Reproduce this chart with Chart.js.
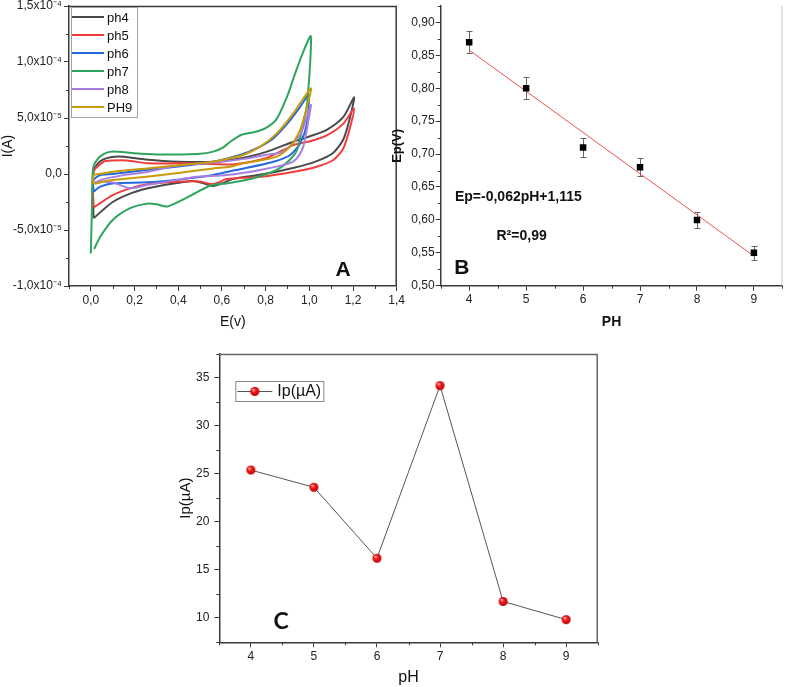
<!DOCTYPE html>
<html>
<head>
<meta charset="utf-8">
<script src="https://cdn.jsdelivr.net/npm/chart.js@4.4.0/dist/chart.umd.min.js"></script>
<style>
body { margin: 0; background: #fff; }
#wrap { position: relative; width: 787px; height: 687px; }
canvas { position: absolute; left: 0; top: 0; }
</style>
</head>
<body>
<div id="wrap">
<canvas id="chartA" width="787" height="687"></canvas>
<canvas id="chartB" width="787" height="687"></canvas>
<canvas id="chartC" width="787" height="687"></canvas>
</div>
<script>
// ---- panel A : voltammograms, current in units of 1e-5 A ----
var cvLabels = ["ph4", "ph5", "ph6", "ph7", "ph8", "PH9"];
var cvColors = ["#4a4a4a", "#f23c3c", "#2468dc", "#2ea55f", "#a67ee2", "#c89c08"];

var ph4E = [0.012,0.012,0.04,0.09,0.15,0.25,0.4,0.56,0.7,0.8,0.93,1.0,1.08,1.156,1.205,1.187,1.156,1.11,1.034,0.93,0.78,0.65,0.6,0.56,0.515,0.47,0.41,0.33,0.256,0.18,0.1,0.012];
var ph4I = [-3.96,0.2,1.1,1.5,1.55,1.3,1.1,1.1,1.45,1.95,2.9,3.35,3.95,5.1,6.85,5.1,3.1,1.9,1.15,0.55,-0.05,-0.45,-0.85,-1.07,-0.83,-0.62,-0.77,-1.0,-1.3,-1.75,-2.5,-3.96];

var ph5E = [0.012,0.012,0.06,0.1,0.165,0.26,0.41,0.56,0.65,0.8,0.93,1.0,1.08,1.156,1.205,1.187,1.156,1.11,1.034,0.93,0.78,0.62,0.58,0.55,0.5,0.41,0.26,0.18,0.1,0.012];
var ph5I = [-3.0,0.2,1.1,1.2,1.2,0.95,0.95,0.9,0.85,1.4,2.6,2.9,3.45,4.5,5.86,4.2,2.3,1.25,0.65,0.2,-0.25,-0.45,-0.8,-0.9,-0.68,-0.68,-0.92,-1.28,-1.88,-3.0];

var ph6E = [0.012,0.012,0.043,0.1,0.25,0.41,0.56,0.683,0.76,0.836,0.912,0.958,0.996,0.989,0.958,0.912,0.836,0.683,0.638,0.56,0.41,0.256,0.103,0.043,0.012];
var ph6I = [-1.58,-0.55,-0.1,0.0,0.35,0.7,1.1,1.7,2.3,3.2,4.8,6.0,7.0,4.5,2.75,1.7,1.1,0.42,0.25,-0.09,-0.48,-0.74,-0.83,-1.13,-1.58];

var ph7E = [0.0,0.005,0.01,0.03,0.06,0.1,0.2,0.3,0.41,0.5,0.56,0.6,0.64,0.69,0.75,0.8,0.85,0.9,0.93,0.97,1.007,0.99,0.966,0.943,0.91,0.85,0.74,0.62,0.55,0.45,0.35,0.3,0.256,0.18,0.1,0.043,0.015];
var ph7I = [-7.1,-3.0,0.5,1.3,1.8,2.0,1.85,1.75,1.75,1.8,2.0,2.3,2.9,3.5,3.75,4.1,4.9,7.0,8.7,10.8,12.3,6.3,3.9,2.1,1.25,0.36,-0.4,-0.85,-1.0,-2.0,-2.9,-2.7,-2.65,-3.05,-4.1,-5.6,-6.7];

var ph8E = [0.012,0.05,0.15,0.25,0.33,0.4,0.5,0.6,0.7,0.8,0.88,0.958,1.007,0.996,0.973,0.943,0.9,0.775,0.622,0.485,0.41,0.256,0.18,0.103,0.05,0.012];
var ph8I = [-0.83,-0.5,-0.1,0.15,0.5,0.75,0.95,1.1,1.35,1.7,2.0,3.5,6.16,4.8,2.5,1.4,0.9,0.36,-0.09,-0.24,-0.48,-0.98,-1.28,-0.77,-0.7,-0.83];

var ph9E = [0.012,0.103,0.256,0.41,0.56,0.638,0.698,0.775,0.851,0.927,1.007,0.989,0.958,0.912,0.851,0.698,0.638,0.56,0.41,0.256,0.18,0.073,0.012,0.012];
var ph9I = [-0.09,0.2,0.5,0.8,1.1,1.4,1.7,2.44,3.63,5.42,7.65,6.0,3.93,2.44,1.55,0.95,0.65,0.5,0.12,-0.24,-0.39,-0.6,-0.83,-0.09];

var cvE = [ph4E, ph5E, ph6E, ph7E, ph8E, ph9E];
var cvI = [ph4I, ph5I, ph6I, ph7I, ph8I, ph9I];

var aXTicks = [0, 0.2, 0.4, 0.6, 0.8, 1.0, 1.2, 1.4];
var aXLabels = ["0,0", "0,2", "0,4", "0,6", "0,8", "1,0", "1,2", "1,4"];
var aXMinor = [-0.1, 0.1, 0.3, 0.5, 0.7, 0.9, 1.1, 1.3];
var aYTicks = [-10, -5, 0, 5, 10, 15];
var aYLabels = ["-1,0x10\u207B\u2074", "-5,0x10\u207B\u2075", "0,0", "5,0x10\u207B\u2075", "1,0x10\u207B\u2074", "1,5x10\u207B\u2074"];
var aYMinor = [-7.5, -2.5, 2.5, 7.5, 12.5];

// ---- panel B : peak potential vs pH ----
var phValues = [4, 5, 6, 7, 8, 9];
var epValues = [0.87, 0.80, 0.71, 0.68, 0.60, 0.55];
var epErr = [0.017, 0.0165, 0.0145, 0.0135, 0.012, 0.011];
var fitPH = [4, 9];
var fitEp = [0.858, 0.545];
var bXLabels = ["4", "5", "6", "7", "8", "9"];
var bXMinor = [3.5, 4.5, 5.5, 6.5, 7.5, 8.5, 9.5];
var bYTicks = [0.50, 0.55, 0.60, 0.65, 0.70, 0.75, 0.80, 0.85, 0.90];
var bYLabels = ["0,50", "0,55", "0,60", "0,65", "0,70", "0,75", "0,80", "0,85", "0,90"];
var bYMinor = [0.525, 0.575, 0.625, 0.675, 0.725, 0.775, 0.825, 0.875, 0.925];

// ---- panel C : peak current vs pH ----
var ipValues = [25.4, 23.6, 16.2, 34.2, 11.7, 9.8];
var cYTicks = [10, 15, 20, 25, 30, 35];
var cYMinor = [7.5, 12.5, 17.5, 22.5, 27.5, 32.5, 37.5];

Chart.defaults.font.family = "'Liberation Sans', Arial, sans-serif";
Chart.defaults.color = "#222";

var AX = "#3a3a3a";

function toPoints(xs, ys) {
    return xs.map(function(x, i){ return {x: x, y: ys[i]}; });
}

function fixTicks(values) {
    return function(scale){ scale.ticks = values.map(function(v){ return {value: v}; }); };
}

function xFit(h) {
    return function(s){ s.height = h; s.paddingLeft = 0; s.paddingRight = 0; };
}
function yFit(w) {
    return function(s){ s.width = w; s.paddingTop = 0; s.paddingBottom = 0; };
}

function axisGrid() {
    return { drawOnChartArea: false, drawTicks: true, tickLength: 5, color: AX, lineWidth: 1 };
}

// minor ticks + optional frame, drawn through the scales
function extras(xMinor, yMinor, frame) {
    return {
        id: "extras",
        afterDraw: function(chart){
            var ctx = chart.ctx, a = chart.chartArea;
            var xs = chart.scales.x, ys = chart.scales.y;
            ctx.save();
            ctx.strokeStyle = AX;
            ctx.lineWidth = 1;
            ctx.beginPath();
            xMinor.forEach(function(v){
                var px = Math.round(xs.getPixelForValue(v)) + 0.5;
                ctx.moveTo(px, a.bottom); ctx.lineTo(px, a.bottom + 3);
            });
            yMinor.forEach(function(v){
                var py = Math.round(ys.getPixelForValue(v)) + 0.5;
                ctx.moveTo(a.left, py); ctx.lineTo(a.left - 3, py);
            });
            ctx.stroke();
            if (frame) {
                ctx.strokeStyle = frame;
                ctx.lineWidth = 1.5;
                ctx.beginPath();
                ctx.moveTo(a.left, a.top + 0.5);
                ctx.lineTo(a.right - 0.5, a.top + 0.5);
                ctx.lineTo(a.right - 0.5, a.bottom);
                ctx.stroke();
            }
            ctx.restore();
        }
    };
}

function drawText(chart, text, xv, yv, font, align) {
    var ctx = chart.ctx;
    ctx.save();
    ctx.font = font;
    ctx.fillStyle = "#111";
    ctx.textAlign = align || "center";
    ctx.textBaseline = "middle";
    ctx.fillText(text, chart.scales.x.getPixelForValue(xv), chart.scales.y.getPixelForValue(yv));
    ctx.restore();
}

// ---------------- chart A ----------------
new Chart(document.getElementById("chartA"), {
    type: "scatter",
    data: {
        datasets: cvLabels.map(function(lab, i){
            return {
                label: lab,
                data: toPoints(cvE[i], cvI[i]),
                showLine: true,
                borderColor: cvColors[i],
                backgroundColor: cvColors[i],
                borderWidth: 2,
                pointRadius: 0,
                tension: 0.25,
                order: 5 - i
            };
        })
    },
    options: {
        responsive: false,
        animation: false,
        layout: { padding: { left: 0, top: 6, right: 390.3, bottom: 356.6 } },
        plugins: { legend: { display: false }, tooltip: { enabled: false } },
        scales: {
            x: {
                type: "linear", min: -0.1, max: 1.4,
                afterBuildTicks: fixTicks(aXTicks),
                afterFit: xFit(44.4),
                ticks: { callback: function(v, i){ return aXLabels[i]; }, autoSkip: false, maxRotation: 0, padding: 2, font: { size: 12 } },
                title: { display: true, text: "E(v)", font: { size: 14 }, padding: 0, color: "#111" },
                grid: axisGrid(),
                border: { color: AX, width: 1.5 }
            },
            y: {
                type: "linear", min: -10, max: 15,
                afterBuildTicks: fixTicks(aYTicks),
                afterFit: yFit(69),
                ticks: { callback: function(v, i){ return aYLabels[i]; }, autoSkip: false, padding: 2, font: { size: 12 } },
                title: { display: true, text: "I(A)", font: { size: 14 }, padding: 0, color: "#111" },
                grid: axisGrid(),
                border: { color: AX, width: 1.5 }
            }
        }
    },
    plugins: [
        extras(aXMinor, aYMinor, AX),
        {
            id: "legendA",
            afterDraw: function(chart){
                var ctx = chart.ctx, a = chart.chartArea;
                var x0 = a.left + 2, y0 = a.top + 1;
                ctx.save();
                ctx.strokeStyle = "#a0a0a0";
                ctx.lineWidth = 1;
                ctx.strokeRect(x0 + 0.5, y0 + 0.5, 66, 110);
                ctx.font = "13px 'Liberation Sans', Arial, sans-serif";
                ctx.textBaseline = "middle";
                chart.data.datasets.forEach(function(ds, i){
                    var y = y0 + 10 + 18 * i;
                    ctx.strokeStyle = ds.borderColor;
                    ctx.lineWidth = 2;
                    ctx.beginPath();
                    ctx.moveTo(x0 + 1, y); ctx.lineTo(x0 + 33, y);
                    ctx.stroke();
                    ctx.fillStyle = "#111";
                    ctx.fillText(ds.label, x0 + 36, y + 1);
                });
                ctx.restore();
                drawText(chart, "A", 1.155, -8.57, "bold 21px 'Liberation Sans', Arial, sans-serif");
            }
        }
    ]
});

// ---------------- chart B ----------------
new Chart(document.getElementById("chartB"), {
    type: "scatter",
    data: {
        datasets: [
            {
                label: "Ep",
                data: toPoints(phValues, epValues),
                pointStyle: "rect",
                pointRadius: 4.6,
                backgroundColor: "#000",
                borderColor: "#000",
                borderWidth: 0,
                order: 0
            },
            {
                label: "fit",
                data: toPoints(fitPH, fitEp),
                showLine: true,
                pointRadius: 0,
                borderColor: "#f05050",
                borderWidth: 1,
                order: 1
            }
        ]
    },
    options: {
        responsive: false,
        animation: false,
        layout: { padding: { left: 390, top: 6, right: 0, bottom: 356.6 } },
        plugins: { legend: { display: false }, tooltip: { enabled: false } },
        scales: {
            x: {
                type: "linear", min: 3.5, max: 9.5,
                afterBuildTicks: fixTicks(phValues),
                afterFit: xFit(44.7),
                ticks: { callback: function(v, i){ return bXLabels[i]; }, autoSkip: false, maxRotation: 0, padding: 2, font: { size: 12 } },
                title: { display: true, text: "PH", font: { size: 14, weight: "bold" }, padding: 0, color: "#111" },
                grid: axisGrid(),
                border: { color: AX, width: 1.5 }
            },
            y: {
                type: "linear", min: 0.5, max: 0.925,
                afterBuildTicks: fixTicks(bYTicks),
                afterFit: yFit(50.7),
                ticks: { callback: function(v, i){ return bYLabels[i]; }, autoSkip: false, padding: 1, font: { size: 12 } },
                title: { display: true, text: "Ep(V)", font: { size: 13, weight: "bold" }, padding: 0, color: "#111" },
                grid: axisGrid(),
                border: { color: AX, width: 1.5 }
            }
        }
    },
    plugins: [
        {
            id: "errorBars",
            beforeDatasetsDraw: function(chart){
                var ctx = chart.ctx, xs = chart.scales.x, ys = chart.scales.y;
                ctx.save();
                ctx.strokeStyle = "#666";
                ctx.lineWidth = 1;
                ctx.beginPath();
                phValues.forEach(function(p, i){
                    var px = Math.round(xs.getPixelForValue(p)) + 0.5;
                    var top = Math.round(ys.getPixelForValue(epValues[i] + epErr[i])) + 0.5;
                    var bot = Math.round(ys.getPixelForValue(epValues[i] - epErr[i])) + 0.5;
                    ctx.moveTo(px, top); ctx.lineTo(px, bot);
                    ctx.moveTo(px - 3, top); ctx.lineTo(px + 3, top);
                    ctx.moveTo(px - 3, bot); ctx.lineTo(px + 3, bot);
                });
                ctx.stroke();
                ctx.restore();
            }
        },
        extras(bXMinor, bYMinor, null),
        {
            id: "notesB",
            afterDraw: function(chart){
                var a = chart.chartArea, ctx = chart.ctx;
                ctx.save();
                ctx.strokeStyle = "#c8c8c8";
                ctx.beginPath();
                ctx.moveTo(a.right - 0.5, a.top); ctx.lineTo(a.right - 0.5, a.bottom);
                ctx.stroke();
                ctx.restore();
                drawText(chart, "Ep=-0,062pH+1,115", 3.75, 0.634, "bold 14px 'Liberation Sans', Arial, sans-serif", "left");
                drawText(chart, "R\u00B2=0,99", 4.48, 0.576, "bold 14px 'Liberation Sans', Arial, sans-serif", "left");
                drawText(chart, "B", 3.87, 0.527, "bold 21px 'Liberation Sans', Arial, sans-serif");
            }
        }
    ]
});

// ---------------- chart C ----------------
function makeSphere(r) {
    var c = document.createElement("canvas");
    c.width = c.height = 2 * r + 2;
    var g = c.getContext("2d");
    var m = r + 1;
    var grad = g.createRadialGradient(m - r * 0.35, m - r * 0.4, r * 0.1, m, m, r);
    grad.addColorStop(0, "#ffc0c0");
    grad.addColorStop(0.35, "#ff1a1a");
    grad.addColorStop(1, "#b80000");
    g.fillStyle = grad;
    g.beginPath();
    g.arc(m, m, r, 0, Math.PI * 2);
    g.fill();
    return c;
}
var sphere = makeSphere(4.5);

new Chart(document.getElementById("chartC"), {
    type: "line",
    data: {
        datasets: [{
            label: "Ip(\u00B5A)",
            data: toPoints(phValues, ipValues),
            borderColor: "#555",
            borderWidth: 1,
            pointStyle: sphere,
            pointRadius: 5,
            tension: 0
        }]
    },
    options: {
        responsive: false,
        animation: false,
        layout: { padding: { left: 177, top: 354, right: 189.3, bottom: 0 } },
        plugins: { legend: { display: false }, tooltip: { enabled: false } },
        scales: {
            x: {
                type: "linear", min: 3.5, max: 9.5,
                afterBuildTicks: fixTicks(phValues),
                afterFit: xFit(44.7),
                ticks: { callback: function(v, i){ return bXLabels[i]; }, autoSkip: false, maxRotation: 0, padding: 2, font: { size: 12 } },
                title: { display: true, text: "pH", font: { size: 16 }, padding: 0, color: "#111" },
                grid: axisGrid(),
                border: { color: AX, width: 1.5 }
            },
            y: {
                type: "linear", min: 7.44, max: 37.5,
                afterBuildTicks: fixTicks(cYTicks),
                afterFit: yFit(42.3),
                ticks: { callback: function(v, i){ return String(cYTicks[i]); }, autoSkip: false, padding: 5, font: { size: 12 } },
                title: { display: true, text: "Ip(\u00B5A)", font: { size: 15 }, padding: 0, color: "#111" },
                grid: axisGrid(),
                border: { color: AX, width: 1.5 }
            }
        }
    },
    plugins: [
        extras(bXMinor, cYMinor, "#666"),
        {
            id: "legendC",
            afterDraw: function(chart){
                var ctx = chart.ctx, a = chart.chartArea;
                var x0 = a.left + 16, y0 = a.top + 27;
                var ds = chart.data.datasets[0];
                ctx.save();
                ctx.strokeStyle = "#888";
                ctx.lineWidth = 1;
                ctx.strokeRect(x0 + 0.5, y0 + 0.5, 88, 20);
                ctx.strokeStyle = ds.borderColor;
                ctx.beginPath();
                ctx.moveTo(x0 + 2, y0 + 10.5); ctx.lineTo(x0 + 37, y0 + 10.5);
                ctx.stroke();
                ctx.drawImage(sphere, x0 + 19.5 - sphere.width / 2, y0 + 10.5 - sphere.height / 2);
                ctx.font = "16px 'Liberation Sans', Arial, sans-serif";
                ctx.fillStyle = "#111";
                ctx.textBaseline = "middle";
                ctx.fillText(ds.label, x0 + 42, y0 + 11);
                ctx.restore();
                drawText(chart, "C", 4.48, 9.55, "bold 23px Lato, 'Open Sans', sans-serif");
            }
        }
    ]
});
</script>
</body>
</html>
